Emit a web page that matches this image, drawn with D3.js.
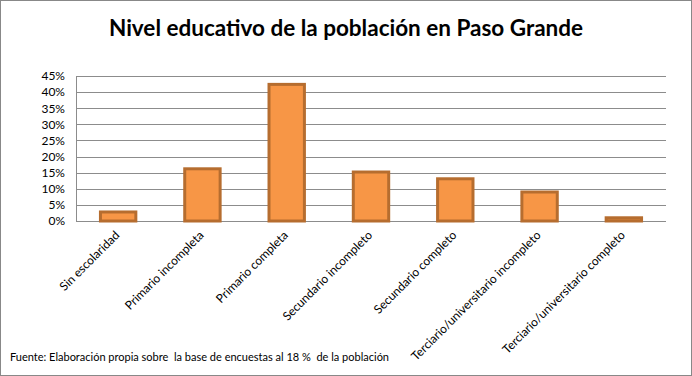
<!DOCTYPE html>
<html>
<head>
<meta charset="utf-8">
<script src="https://cdn.jsdelivr.net/npm/d3@7"></script>
<style>
  body { margin: 0; background: #fff; }
  svg { font-family: Lato, "Open Sans", sans-serif; }
</style>
</head>
<body>
<svg id="chart" width="692" height="376"></svg>
<script>
// data
const categories = [
  "Sin escolaridad",
  "Primario incompleta",
  "Primario completa",
  "Secundario incompleto",
  "Secundario completo",
  "Terciario/universitario incompleto",
  "Terciario/universitario completo"
];
const values = [0.028, 0.162, 0.424, 0.152, 0.131, 0.09, 0.01];
const yTicks = [0, 0.05, 0.1, 0.15, 0.2, 0.25, 0.3, 0.35, 0.4, 0.45];

const width = 692, height = 376;
const margin = { top: 76, right: 26, bottom: 155, left: 76 };

const svg = d3.select("#chart");

// outer frame
svg.append("rect")
  .attr("x", 0.5).attr("y", 0.5)
  .attr("width", width - 1).attr("height", height - 1)
  .attr("fill", "#fff")
  .attr("stroke", "#888");

svg.append("text")
  .attr("x", width / 2)
  .attr("y", 36)
  .attr("text-anchor", "middle")
  .attr("font-size", "22.5px")
  .attr("font-weight", "bold")
  .text("Nivel educativo de la población en Paso Grande");

const x = d3.scaleBand()
  .domain(categories)
  .range([margin.left, width - margin.right])
  .paddingInner(0.58)
  .paddingOuter(0.29);

const y = d3.scaleLinear()
  .domain([0, 0.45])
  .range([height - margin.bottom, margin.top]);

// gridlines
svg.append("g")
  .selectAll("line")
  .data(yTicks)
  .join("line")
    .attr("x1", margin.left)
    .attr("x2", width - margin.right)
    .attr("y1", d => Math.round(y(d)) + 0.5)
    .attr("y2", d => Math.round(y(d)) + 0.5)
    .attr("stroke", "#8c8c8c");

// y axis
const yAxis = svg.append("g")
  .attr("transform", `translate(${margin.left},0)`)
  .call(d3.axisLeft(y).tickValues(yTicks).tickFormat(d3.format(".0%")).tickSize(0).tickPadding(11));
yAxis.select(".domain").attr("stroke", "#8c8c8c");
yAxis.selectAll("text").attr("font-size", "12px").attr("fill", "#000")
  .attr("font-family", "Lato, sans-serif");

// bars
svg.append("g")
  .selectAll("rect")
  .data(values)
  .join("rect")
    .attr("x", (d, i) => x(categories[i]))
    .attr("y", d => y(d))
    .attr("width", x.bandwidth())
    .attr("height", d => y(0) - y(d))
    .attr("fill", "#f79646")
    .attr("stroke", "#b66d2f")
    .attr("stroke-width", 3);

// x labels
svg.append("g")
  .selectAll("text")
  .data(categories)
  .join("text")
    .attr("transform", d => `translate(${x(d) + x.bandwidth() / 2 + 2},${y(0) + 15}) rotate(-45)`)
    .attr("text-anchor", "end")
    .attr("font-size", "12px")
    .text(d => d);

svg.append("text")
  .attr("x", 10)
  .attr("y", 361)
  .attr("font-size", "11px")
  .style("white-space", "pre")
  .text("Fuente: Elaboración propia sobre  la base de encuestas al 18 %  de la población");
</script>
</body>
</html>
